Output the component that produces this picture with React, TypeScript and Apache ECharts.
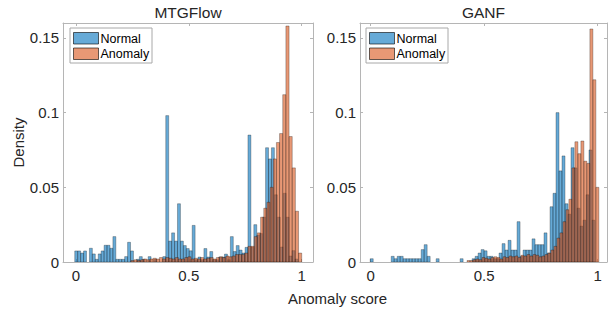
import React, { useEffect, useRef } from 'react';
import * as echarts from 'echarts';

// ---- texts / ticks ----
const panelTitles = ['MTGFlow', 'GANF'];
const seriesNames = ['Normal', 'Anomaly'];
const xAxisTitle = 'Anomaly score';
const yAxisTitle = 'Density';
const xTicks = [0, 0.5, 1];
const xTickLabels = ['0', '0.5', '1'];
const yTicks = [0, 0.05, 0.1, 0.15];
const yTickLabels = ['0', '0.05', '0.1', '0.15'];

// ---- histogram bins (bin start / bin width per series) ----
const mtgNormalStart = -0.005;
const mtgNormalWidth = 0.013;
const mtgAnomalyStart = -0.008;
const mtgAnomalyWidth = 0.014;
const ganfNormalStart = -0.002;
const ganfNormalWidth = 0.0132;
const ganfAnomalyStart = 0.002;
const ganfAnomalyWidth = 0.0132;

// ---- densities ----
const mtgNormal = [
  0.0074, 0.0074, 0.006, 0.0074, 0, 0.0092, 0.0054, 0.0018, 0.0054, 0.0074,
  0.0112, 0.0112, 0.0092, 0.017, 0.0018, 0.0018, 0.0018, 0.0036, 0.0132, 0.0074,
  0, 0.0018, 0.0036, 0.0018, 0, 0.0036, 0, 0.0018, 0, 0,
  0.0036, 0.098, 0.014, 0.0195, 0.014, 0.039, 0.014, 0.011, 0.009, 0.0075,
  0.0245, 0.0015, 0.0033, 0.0015, 0.009, 0.0033, 0.007, 0.0015, 0.0015, 0.0033,
  0.0033, 0.0053, 0.0015, 0.017, 0.007, 0.011, 0.008, 0.006, 0.0098, 0.085,
  0.0098, 0.025, 0.018, 0.019, 0.03, 0.0765, 0.069, 0.0765, 0.045, 0.03,
  0.01, 0.046, 0.03, 0.004, 0.0076, 0.002, 0, 0,
];
const mtgAnomaly = [
  0, 0, 0, 0, 0, 0, 0, 0, 0, 0,
  0, 0, 0, 0, 0, 0, 0, 0, 0.001, 0.0015,
  0.001, 0.0015, 0.002, 0.0015, 0.002, 0.0025, 0.002, 0.003, 0.002, 0.003,
  0.0025, 0.002, 0.003, 0.002, 0.002, 0.003, 0.0035, 0.002, 0.0025, 0.002,
  0.003, 0.002, 0.0025, 0.003, 0.002, 0.003, 0.0035, 0.003, 0.004, 0.0035,
  0.004, 0.005, 0.005, 0.005, 0.006, 0.0105, 0.0105, 0.017, 0.0195, 0.03,
  0.036, 0.04, 0.05, 0.069, 0.08, 0.086, 0.112, 0.158, 0.084, 0.063,
  0.034, 0.006,
];
const ganfNormal = [
  0.0022, 0, 0, 0, 0, 0, 0, 0.0038, 0.0022, 0.0038,
  0.0038, 0.0022, 0.0022, 0.0022, 0.0022, 0.0022, 0.0022, 0.0083, 0.0116, 0.0038,
  0, 0, 0.0022, 0, 0, 0, 0, 0, 0, 0,
  0.0022, 0, 0, 0, 0.0022, 0.0038, 0.006, 0.0083, 0.0075, 0.0038,
  0.0038, 0.0022, 0.0022, 0.006, 0.0123, 0.008, 0.0145, 0.008, 0.008, 0.027,
  0.0038, 0.008, 0.008, 0.008, 0.0155, 0.0116, 0.0116, 0.0116, 0.0195, 0.006,
  0.037, 0.046, 0.1, 0.061, 0.071, 0.039, 0.032, 0.0765, 0.063, 0.036,
  0.024, 0.028, 0.045, 0.075, 0.028, 0,
];
const ganfAnomaly = [
  0, 0, 0, 0, 0, 0, 0, 0, 0, 0,
  0, 0, 0, 0, 0, 0, 0, 0, 0, 0,
  0, 0, 0, 0, 0, 0, 0, 0, 0, 0,
  0, 0, 0.001, 0.001, 0.0015, 0.002, 0.0015, 0.003, 0.0025, 0.002,
  0.003, 0.0035, 0.003, 0.002, 0.0035, 0.003, 0.004, 0.0035, 0.004, 0.003,
  0.0045, 0.004, 0.005, 0.004, 0.005, 0.0045, 0.0035, 0.004, 0.005, 0.006,
  0.008, 0.0105, 0.016, 0.0195, 0.027, 0.035, 0.042, 0.063, 0.0805, 0.0725,
  0.081, 0.0675, 0.066, 0.156, 0.122, 0.05,
];

const FONT = '"Liberation Sans", Arial, Helvetica, sans-serif';
const BLUE = 'rgba(0,114,189,0.6)';
const ORANGE = 'rgba(217,83,25,0.6)';
const EDGE = 'rgba(0,0,0,0.55)';
const AXIS = '#b5b5b5';
const TEXT = '#262626';

function toBins(values: number[], start: number, width: number) {
  return values
    .map((v, i) => [start + i * width, start + (i + 1) * width, v])
    .filter((d) => d[2] > 0);
}

function labelFor(ticks: number[], labels: string[]) {
  return (v: number) => {
    const k = ticks.findIndex((t) => Math.abs(t - v) < 1e-9);
    return k >= 0 ? labels[k] : '';
  };
}

function histSeries(name: string, data: number[][], axis: number, fill: string) {
  return {
    type: 'custom',
    name,
    xAxisIndex: axis,
    yAxisIndex: axis,
    data,
    encode: { x: [0, 1], y: 2 },
    clip: true,
    silent: true,
    renderItem: (params: any, api: any) => {
      const p0 = api.coord([api.value(0), api.value(2)]);
      const p1 = api.coord([api.value(1), 0]);
      return {
        type: 'rect',
        shape: { x: p0[0], y: p0[1], width: p1[0] - p0[0], height: p1[1] - p0[1] },
        style: { fill, stroke: EDGE, lineWidth: 0.5 },
      };
    },
  };
}

const panels = [
  { left: 63, width: 250, xmin: -0.057, xmax: 1.05 },
  { left: 360, width: 247, xmin: -0.047, xmax: 1.041 },
];
const gridTop = 23;
const gridHeight = 239;

function legendGraphic(x: number) {
  const y = 28;
  return [
    { type: 'rect', shape: { x, y, width: 82, height: 35 }, style: { fill: '#fff', stroke: '#a8a8a8', lineWidth: 1 }, z: 100 },
    { type: 'rect', shape: { x: x + 3.5, y: y + 4.5, width: 25, height: 11.5 }, style: { fill: BLUE, stroke: 'rgba(0,0,0,0.6)', lineWidth: 1 }, z: 101 },
    { type: 'rect', shape: { x: x + 3.5, y: y + 20, width: 25, height: 11.5 }, style: { fill: ORANGE, stroke: 'rgba(0,0,0,0.6)', lineWidth: 1 }, z: 101 },
    { type: 'text', x: x + 30.5, y: y + 10.5, style: { text: seriesNames[0], fontSize: 12.5, fontFamily: FONT, fill: '#000', align: 'left', verticalAlign: 'middle', textAlign: 'left', textVerticalAlign: 'middle' }, z: 101 },
    { type: 'text', x: x + 30.5, y: y + 26, style: { text: seriesNames[1], fontSize: 12.5, fontFamily: FONT, fill: '#000', align: 'left', verticalAlign: 'middle', textAlign: 'left', textVerticalAlign: 'middle' }, z: 101 },
  ];
}

function centerText(text: string, x: number, y: number, size: number, rotation = 0) {
  return {
    type: 'text', x, y, rotation,
    style: { text, fontSize: size, fontFamily: FONT, fill: TEXT, align: 'center', verticalAlign: 'middle', textAlign: 'center', textVerticalAlign: 'middle' },
    z: 100,
  };
}

export default function App() {
  const ref = useRef<HTMLDivElement>(null);
  useEffect(() => {
    if (!ref.current) return;
    const chart = echarts.init(ref.current, undefined, { renderer: 'svg' });
    const xFmt = labelFor(xTicks, xTickLabels);
    const yFmt = labelFor(yTicks, yTickLabels);
    const grids: any[] = [];
    const xAxes: any[] = [];
    const yAxes: any[] = [];
    panels.forEach((p, g) => {
      grids.push({ left: p.left, top: gridTop, width: p.width, height: gridHeight, containLabel: false });
      ['bottom', 'top'].forEach((pos, k) => {
        xAxes.push({
          gridIndex: g, type: 'value', position: pos, min: p.xmin, max: p.xmax,
          axisLine: { show: true, onZero: false, lineStyle: { color: AXIS, width: 1 } },
          axisTick: { show: true, inside: true, length: 3, customValues: xTicks, lineStyle: { color: AXIS } },
          axisLabel: { show: k === 0, customValues: xTicks, formatter: xFmt, fontSize: 15, fontFamily: FONT, color: TEXT, margin: 6 },
          splitLine: { show: false },
        });
      });
      ['left', 'right'].forEach((pos, k) => {
        yAxes.push({
          gridIndex: g, type: 'value', position: pos, min: 0, max: 0.16,
          axisLine: { show: true, onZero: false, lineStyle: { color: AXIS, width: 1 } },
          axisTick: { show: true, inside: true, length: 3, customValues: yTicks, lineStyle: { color: AXIS } },
          axisLabel: { show: k === 0, customValues: yTicks, formatter: yFmt, fontSize: 15, fontFamily: FONT, color: TEXT, margin: 4 },
          splitLine: { show: false },
        });
      });
    });
    const series = [
      histSeries(seriesNames[0], toBins(mtgNormal, mtgNormalStart, mtgNormalWidth), 0, BLUE),
      histSeries(seriesNames[1], toBins(mtgAnomaly, mtgAnomalyStart, mtgAnomalyWidth), 0, ORANGE),
      histSeries(seriesNames[0], toBins(ganfNormal, ganfNormalStart, ganfNormalWidth), 2, BLUE),
      histSeries(seriesNames[1], toBins(ganfAnomaly, ganfAnomalyStart, ganfAnomalyWidth), 2, ORANGE),
    ];
    // map series axis indices: bottom x / left y of each grid are at index 2*g
    const graphic: any[] = [
      ...legendGraphic(70),
      ...legendGraphic(366),
      centerText(panelTitles[0], panels[0].left + panels[0].width / 2, 12, 15.5),
      centerText(panelTitles[1], panels[1].left + panels[1].width / 2, 12, 15.5),
      centerText(xAxisTitle, 337.5, 298, 15),
      centerText(yAxisTitle, 18, gridTop + gridHeight / 2, 15, Math.PI / 2),
    ];
    chart.setOption({
      animation: false,
      backgroundColor: '#fff',
      grid: grids,
      xAxis: xAxes,
      yAxis: yAxes,
      series,
      graphic,
    });
    return () => chart.dispose();
  }, []);
  return <div ref={ref} style={{ position: 'fixed', left: 0, top: 0, width: 613, height: 309 }} />;
}
